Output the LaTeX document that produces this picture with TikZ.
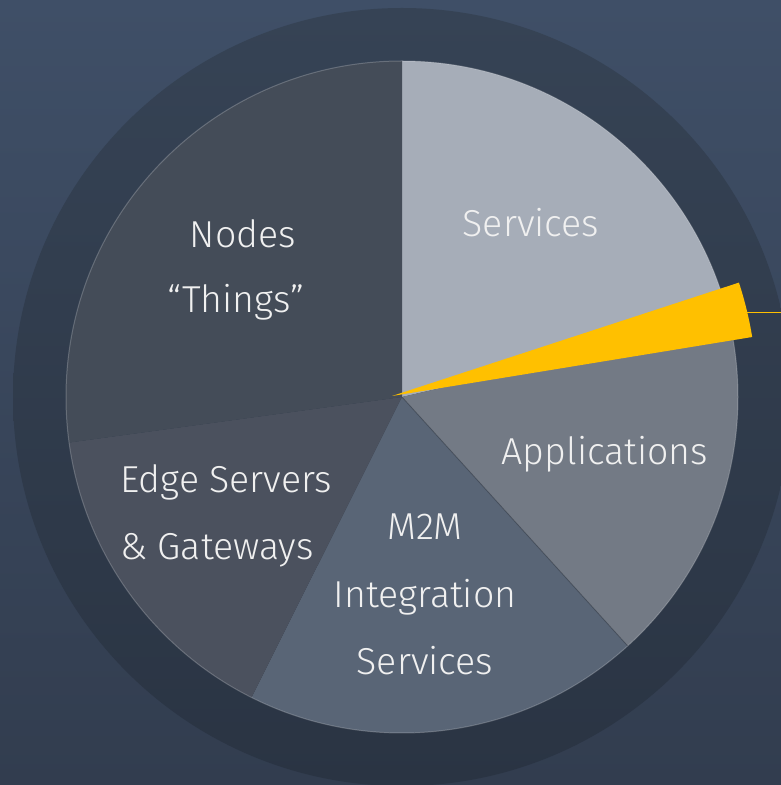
\documentclass[tikz,border=0pt]{standalone}
\usepackage{fontspec}
\setmainfont{Fira Sans}[UprightFont={* Light}]
\usetikzlibrary{calc}
\definecolor{bgtop}{HTML}{3F4F67}
\definecolor{bgbot}{HTML}{323D4F}
\definecolor{ringtop}{HTML}{364355}
\definecolor{ringbot}{HTML}{2A3443}
\definecolor{cServices}{HTML}{A6ADB8}
\definecolor{cApps}{HTML}{737A85}
\definecolor{cM2M}{HTML}{596576}
\definecolor{cEdge}{HTML}{4B515E}
\definecolor{cNodes}{HTML}{444C58}
\definecolor{cYellow}{HTML}{FFC000}
\definecolor{txt}{HTML}{F0F0F0}
\begin{document}
\begin{tikzpicture}[x=1pt,y=1pt,
  lbl/.style={text=txt,font=\fontsize{37.5}{67}\selectfont,inner sep=0pt,anchor=base},
  slice/.style={draw=none}]
\useasboundingbox (0,0) rectangle (781,785);
\clip (0,0) rectangle (781,785);
\shade[top color=bgtop,bottom color=bgbot] (0,0) rectangle (781,785);
\coordinate (C) at (402,388);
\shade[top color=ringtop,bottom color=ringbot] (C) circle[radius=389];
% slices
\fill[cServices] (C) -- ++(90:336) arc[start angle=90,end angle=13,radius=336] -- cycle;
\fill[cApps] (C) -- ++(13:336) arc[start angle=13,end angle=-47.8,radius=336] -- cycle;
\fill[cM2M] (C) -- ++(-47.8:336) arc[start angle=-47.8,end angle=-116.6,radius=336] -- cycle;
\fill[cEdge] (C) -- ++(-116.6:336) arc[start angle=-116.6,end angle=-172.2,radius=336] -- cycle;
\fill[cNodes] (C) -- ++(-172.2:336) arc[start angle=187.8,end angle=90,radius=336] -- cycle;
\draw[white,opacity=0.22,line width=1pt] (C) circle[radius=336];
\draw[black,opacity=0.18,line width=1pt] (C) -- ++(-47.8:336);
% exploded yellow slice
\coordinate (A) at (392,389);
\fill[cYellow] (A) -- ++(9.3:365) arc[start angle=9.3,end angle=18.1,radius=365] -- cycle;
\coordinate (tip) at ($(A)+(13.2:365)$);
\coordinate (lineEnd) at (781,0);
\draw[cYellow,line width=1.1pt] (tip) -- (tip -| lineEnd);
% labels
\node[lbl] (services) at (531,548) {Services};
\node[lbl] (nodes) at (243,537) {Nodes};
\node[lbl] (things) at (236,472) {\char"201C Things\char"201D};
\node[lbl] (apps) at (605,320) {Applications};
\node[lbl] (m2m) at (425,245) {M2M};
\node[lbl] (integ) at (425,177) {Integration};
\node[lbl] (msvc) at (425,110) {Services};
\node[lbl,anchor=base west] (edge) at (120,292) {Edge Servers};
\node[lbl,anchor=base west] (gate) at (120,225) {\& Gateways};
\end{tikzpicture}
\end{document}
